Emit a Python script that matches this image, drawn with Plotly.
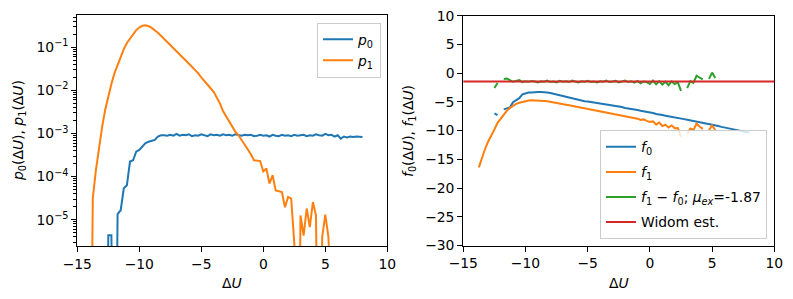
import numpy as np
import plotly.graph_objects as go

# histogram bin positions (Delta U)
du = [-14.0, -13.75, -13.5, -13.25, -13.0, -12.75, -12.5, -12.25,
      -12.0, -11.75, -11.5, -11.25, -11.0, -10.75, -10.5, -10.25,
      -10.0, -9.75, -9.5, -9.25, -9.0, -8.75, -8.5, -8.25,
      -8.0, -7.75, -7.5, -7.25, -7.0, -6.75, -6.5, -6.25,
      -6.0, -5.75, -5.5, -5.25, -5.0, -4.75, -4.5, -4.25,
      -4.0, -3.75, -3.5, -3.25, -3.0, -2.75, -2.5, -2.25,
      -2.0, -1.75, -1.5, -1.25, -1.0, -0.75, -0.5, -0.25,
      0.0, 0.25, 0.5, 0.75, 1.0, 1.25, 1.5, 1.75,
      2.0, 2.25, 2.5, 2.75, 3.0, 3.25, 3.5, 3.75,
      4.0, 4.25, 4.5, 4.75, 5.0, 5.25, 5.5, 5.75,
      6.0, 6.25, 6.5, 6.75, 7.0, 7.25, 7.5, 7.75,
      8.0]

# log10 of p0, p1 (None = empty bin)
log_p0 = [None, None, None, None, None, None, -5.36, -5.36,
          None, -4.87, -4.78, -4.27, -4.2, -3.65, -3.62, -3.42,
          -3.38, -3.31, -3.22, -3.19, -3.17, -3.15, -3.07, -3.04,
          -3.04, -3.05, -3.03, -3.05, -3.01, -3.05, -3.03, -3.04,
          -3.02, -3.06, -3.04, -3.05, -3.02, -3.04, -3.06, -3.02,
          -3.04, -3.03, -3.05, -3.02, -3.04, -3.03, -3.05, -3.02,
          -3.03, -3.05, -3.03, -3.04, -3.03, -3.06, -3.05, -3.03,
          -3.05, -3.04, -3.07, -3.03, -3.05, -3.06, -3.03, -3.05,
          -3.04, -3.06, -3.03, -3.05, -3.04, -3.03, -3.06, -3.04,
          -3.05, -3.02, -3.04, -3.05, -3.01, -3.04, -3.03, -3.07,
          -3.04, -3.12, -3.07, -3.09, -3.07, -3.08, -3.07, -3.08,
          -3.08]

log_p1 = [None, -4.5, -3.85, -3.3, -2.85, -2.45, -2.12, -1.85,
          -1.6, -1.4, -1.21, -1.04, -0.9, -0.79, -0.69, -0.6,
          -0.54, -0.5, -0.49, -0.51, -0.55, -0.6, -0.66, -0.73,
          -0.8, -0.87, -0.95, -1.02, -1.1, -1.17, -1.24, -1.31,
          -1.38, -1.45, -1.53, -1.6, -1.7, -1.79, -1.87, -1.95,
          -2.03, -2.15, -2.3, -2.48, -2.6, -2.7, -2.82, -2.96,
          -3.04, -3.15, -3.25, -3.38, -3.48, -3.62, -3.63, -3.64,
          -3.88, -3.81, -4.16, -3.97, -4.32, -4.34, -4.36, -4.71,
          -4.47, -4.51, -5.55, None, -4.9, -5.37, -4.74, -5.17,
          -4.59, -4.9, None, -5.4, -4.88, -5.4, None, None,
          None, None, None, None, None, None, None, None,
          None]

f0 = [None, None, None, None, None, None, -7.0, -7.3,
      None, -6.3, -6.1, -5.95, -5.05, -4.7, -4.35, -3.7,
      -3.5, -3.38, -3.35, -3.28, -3.27, -3.3, -3.3, -3.38,
      -3.45, -3.58, -3.72, -3.88, -4.05, -4.2, -4.32, -4.45,
      -4.55, -4.68, -4.78, -4.88, -4.95, -5.03, -5.12, -5.2,
      -5.27, -5.35, -5.45, -5.55, -5.6, -5.72, -5.85, -5.9,
      -6.05, -6.12, -6.25, -6.35, -6.42, -6.55, -6.62, -6.75,
      -6.85, -6.95, -7.1, -7.15, -7.3, -7.4, -7.48, -7.6,
      -7.7, -7.8, -7.88, -8.0, -8.1, -8.2, -8.3, -8.42,
      -8.5, -8.62, -8.75, -8.85, -9.0, -9.1, -9.2, -9.35,
      -9.45, -9.6, -9.7, -9.82, -9.92, -10.05, -10.15, -10.25,
      -10.35]

f1 = [None, -16.4, -14.6, -13.2, -11.9, -10.7, -9.8, -8.65,
      -7.9, -7.2, -6.55, -6.05, -5.65, -5.35, -5.15, -4.98,
      -4.85, -4.75, -4.72, -4.72, -4.74, -4.78, -4.83, -4.89,
      -4.97, -5.07, -5.17, -5.28, -5.38, -5.49, -5.6, -5.7,
      -5.81, -5.92, -6.02, -6.13, -6.25, -6.35, -6.45, -6.55,
      -6.67, -6.77, -6.9, -7.02, -7.1, -7.2, -7.3, -7.42,
      -7.5, -7.62, -7.7, -7.85, -7.92, -8.15, -8.05, -8.3,
      -8.5, -8.4, -8.95, -8.6, -9.2, -9.0, -9.45, -9.1,
      -9.6, -9.55, -11.1, None, -10.5, -9.65, -9.9, -8.8,
      -9.3, -9.7, None, -9.9, -9.1, -9.9, None, None,
      None, None, None, None, None, None, None, None,
      None]

f1_minus_f0 = [None, None, None, None, None, None, -2.6, -1.7,
               None, -1.0, -0.95, -1.2, -1.5, -1.35, -1.2, -1.55,
               -1.4, -1.5, -1.35, -1.45, -1.6, -1.4, -1.5, -1.3,
               -1.55, -1.45, -1.6, -1.35, -1.5, -1.4, -1.55, -1.3,
               -1.45, -1.6, -1.4, -1.5, -1.35, -1.55, -1.45, -1.6,
               -1.4, -1.5, -1.3, -1.55, -1.45, -1.35, -1.6, -1.45,
               -1.3, -1.55, -1.4, -1.65, -1.35, -1.75, -1.45, -1.55,
               -1.9, -1.3, -1.95, -1.4, -2.0, -1.5, -2.1, -1.45,
               -1.9, -1.6, -3.1, None, -2.6, -1.4, -1.7, -0.45,
               -0.8, -1.1, None, -1.0, 0.1, -0.85, None, None,
               None, None, None, None, None, None, None, None,
               None]

widom = -1.45
mu_ex = -1.87

C0, C1, C2, C3 = "#1f77b4", "#ff7f0e", "#2ca02c", "#d62728"
FONT = "DejaVu Sans"
FS = 13.9
LW = 2

# page body has an 8px margin, so the figure is drawn 8px in from the window edge
W, H, OFF = 785, 291, 8


def px(x):
    return (x - OFF) / W


def py(y):
    return 1 - (y - OFF) / H


def to_prob(logs):
    # empty bins -> tiny value so the line drops off the bottom like matplotlib's clip
    return [1e-12 if v is None else 10 ** v for v in logs]


fig = go.Figure()

fig.add_trace(go.Scatter(x=du, y=to_prob(log_p0), mode="lines", line=dict(color=C0, width=LW),
                         name="<i>p</i><sub>0</sub>", legendgroup="a", legend="legend"))
fig.add_trace(go.Scatter(x=du, y=to_prob(log_p1), mode="lines", line=dict(color=C1, width=LW),
                         name="<i>p</i><sub>1</sub>", legendgroup="b", legend="legend"))

fig.add_trace(go.Scatter(x=du, y=f0, mode="lines", line=dict(color=C0, width=LW),
                         name="<i>f</i><sub>0</sub>", xaxis="x2", yaxis="y2",
                         legendgroup="c", legend="legend2"))
fig.add_trace(go.Scatter(x=du, y=f1, mode="lines", line=dict(color=C1, width=LW),
                         name="<i>f</i><sub>1</sub>", xaxis="x2", yaxis="y2",
                         legendgroup="d", legend="legend2"))
fig.add_trace(go.Scatter(x=du, y=f1_minus_f0, mode="lines", line=dict(color=C2, width=LW),
                         name="<i>f</i><sub>1</sub> \u2212 <i>f</i><sub>0</sub>; <i>\u03bc<sub>ex</sub></i>=%.2f" % mu_ex,
                         xaxis="x2", yaxis="y2", legendgroup="e", legend="legend2"))
fig.add_shape(type="line", xref="x2 domain", yref="y2", x0=0, x1=1, y0=widom, y1=widom,
              line=dict(color=C3, width=LW), name="Widom est.", showlegend=True,
              legend="legend2", legendgroup="f")

axis_common = dict(showline=True, linecolor="black", linewidth=1.1, mirror=True,
                   ticks="outside", ticklen=5, tickwidth=1.1, tickcolor="black",
                   showgrid=False, zeroline=False, automargin=False, ticklabeloverflow="allow",
                   tickfont=dict(family=FONT, size=FS, color="black"))

ylog_vals = [1e-5, 1e-4, 1e-3, 1e-2, 1e-1]
ylog_text = ["10<sup>\u2212%d</sup>" % k for k in (5, 4, 3, 2, 1)]
minor_vals = [m * 10.0 ** e for e in range(-6, 0) for m in range(2, 10)]

# axis labels as annotations (placed like matplotlib's)
labels = [
    dict(text="\u0394<i>U</i>", x=px(232), y=py(283), textangle=0),
    dict(text="\u0394<i>U</i>", x=px(619), y=py(283), textangle=0),
    dict(text="<i>p</i><sub>0</sub>(\u0394<i>U</i>), <i>p</i><sub>1</sub>(\u0394<i>U</i>)",
         x=px(19), y=py(131), textangle=-90),
    dict(text="<i>f</i><sub>0</sub>(\u0394<i>U</i>), <i>f</i><sub>1</sub>(\u0394<i>U</i>)",
         x=px(409), y=py(131), textangle=-90),
]
annotations = [dict(xref="paper", yref="paper", showarrow=False, xanchor="center", yanchor="middle",
                    font=dict(family=FONT, size=FS, color="black"), **a) for a in labels]

fig.update_layout(
    width=W, height=H,
    margin=dict(l=0, r=0, t=0, b=0, autoexpand=False),
    paper_bgcolor="white", plot_bgcolor="white",
    font=dict(family=FONT, size=FS, color="black"),
    xaxis=dict(domain=[px(77.3), px(387.3)], range=[-15, 10], tickvals=[-15, -10, -5, 0, 5, 10],
               anchor="y", **axis_common),
    yaxis=dict(domain=[py(246), py(15)], type="log", range=[-5.61, -0.25],
               tickvals=ylog_vals, ticktext=ylog_text,
               minor=dict(tickvals=minor_vals, ticks="outside", ticklen=3, tickwidth=0.8, tickcolor="black", showgrid=False),
               anchor="x", **axis_common),
    xaxis2=dict(domain=[px(463.3), px(774.3)], range=[-15, 10], tickvals=[-15, -10, -5, 0, 5, 10],
                anchor="y2", **axis_common),
    yaxis2=dict(domain=[py(245.5), py(15.7)], range=[-30, 10], dtick=5,
                anchor="x2", **axis_common),
    legend=dict(x=px(381), xanchor="right", y=py(22.7), yanchor="top",
                bgcolor="rgba(255,255,255,0.8)", bordercolor="#cccccc", borderwidth=1,
                font=dict(family=FONT, size=FS), traceorder="grouped", tracegroupgap=0),
    legend2=dict(x=px(767), xanchor="right", y=py(239.3), yanchor="bottom",
                 bgcolor="rgba(255,255,255,0.8)", bordercolor="#cccccc", borderwidth=1,
                 font=dict(family=FONT, size=FS), traceorder="grouped", tracegroupgap=4),
    annotations=annotations,
)

fig.write_html("out.html")
